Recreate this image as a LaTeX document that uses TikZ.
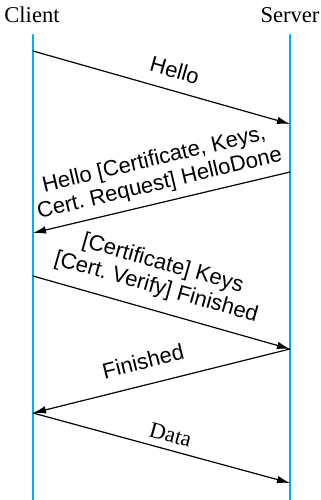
\documentclass[tikz,border=0pt]{standalone}
\usepackage{fontspec}
\setmainfont{Liberation Serif}
\setsansfont{Liberation Sans}
\usetikzlibrary{arrows.meta}
\usepackage{xcolor}
\definecolor{lifeblue}{RGB}{0,174,239}

\begin{document}
\frenchspacing
\begin{tikzpicture}[x=0.5pt,y=-0.5pt,>={Latex[length=6.5pt,width=3.8pt]},line cap=round,
  font=\fontsize{11.3}{13}\selectfont,
  life/.style={lifeblue,line width=1.15pt},
  msg/.style={line width=0.6pt},
  lbl/.style={sloped,inner sep=0pt,text depth=0pt,align=center,font=\sffamily\fontsize{11}{12.3}\selectfont}]
\useasboundingbox (0,0) rectangle (321,500);
\node (client) at (32,15) {Client};
\node (server) at (290,15) {Server};
\coordinate (ctop) at (33,35);
\coordinate (cbot) at (33,500);
\coordinate (stop) at (290,35);
\coordinate (sbot) at (290,500);
\draw[life] (ctop) -- (cbot);
\draw[life] (stop) -- (sbot);
% messages
\coordinate (c1) at (33,51);  \coordinate (s1) at (290,124);
\coordinate (c2) at (33,233); \coordinate (s2) at (290,172);
\coordinate (c3) at (33,276); \coordinate (s3) at (290,349);
\coordinate (c4) at (33,413); \coordinate (s4) at (290,483);
\draw[msg,->] (c1) -- node[lbl,above=6pt,pos=0.53] {Hello} (s1);
\draw[msg,<-] (c2) -- node[lbl,above=6pt,pos=0.51] {Hello [Certificate, Keys,\\Cert. Request] HelloDone} (s2);
\draw[msg,->] (c3) -- node[lbl,above=8pt,pos=0.455] {[Certificate] Keys\\{}[Cert. Verify] Finished} (s3);
\draw[msg,<-] (c4) -- node[lbl,above=7.5pt,pos=0.45] {Finished} (s3);
\draw[msg,->] (c4) -- node[lbl,above=3.7pt,pos=0.52,font=\fontsize{11.3}{13}\selectfont] {Data} (s4);
\end{tikzpicture}
\end{document}
